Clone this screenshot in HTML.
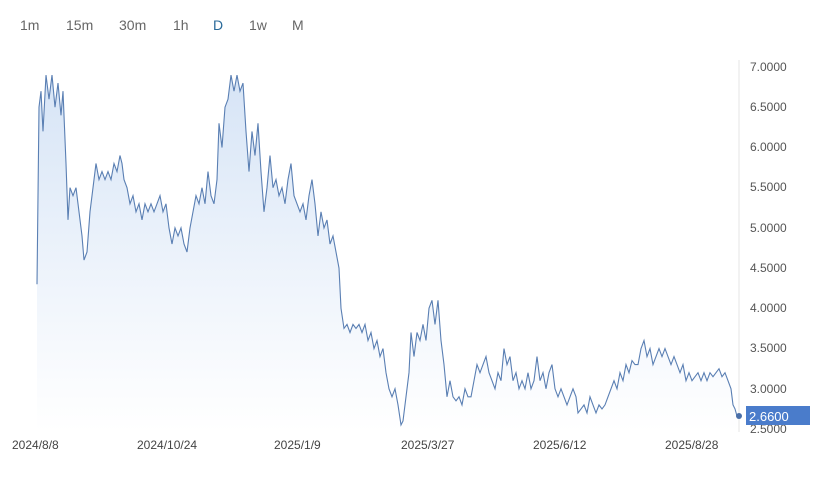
<!DOCTYPE html>
<html><head><meta charset="utf-8"><style>
body{margin:0;width:830px;height:494px;background:#fff;overflow:hidden;font-family:"Liberation Sans",sans-serif}
.tb{position:absolute;top:17px;font-size:14px;color:#666}
</style></head><body>
<div class="tb" style="left:20px">1m</div>
<div class="tb" style="left:66px">15m</div>
<div class="tb" style="left:119px">30m</div>
<div class="tb" style="left:173px">1h</div>
<div class="tb" style="left:213px;color:#2a6a9a">D</div>
<div class="tb" style="left:249px">1w</div>
<div class="tb" style="left:292px">M</div>
<svg id="s" width="830" height="494" style="position:absolute;left:0;top:0">
<defs><linearGradient id="g" x1="0" y1="0" x2="0" y2="1"><stop offset="0" stop-color="#d6e4f6"/><stop offset="1" stop-color="#ffffff" stop-opacity="0.9"/></linearGradient></defs>
<line x1="739" y1="60" x2="739" y2="432" stroke="#e4e4e4"/>
<path id="area" fill="url(#g)"/>
<path id="line" fill="none" stroke="#5a7fb3" stroke-width="1.1"/>
<g font-size="12" fill="#555">
<text x="750" y="71">7.0000</text><text x="750" y="111">6.5000</text><text x="750" y="151">6.0000</text><text x="750" y="191">5.5000</text><text x="750" y="232">5.0000</text><text x="750" y="272">4.5000</text><text x="750" y="312">4.0000</text><text x="750" y="352">3.5000</text><text x="750" y="393">3.0000</text><text x="750" y="433">2.5000</text>
</g>
<rect x="746" y="406" width="64" height="19" fill="#4a7ccb"/>
<text x="749" y="421" font-size="13" fill="#fff">2.6600</text>
<circle cx="739" cy="416" r="3" fill="#4a6fa8"/>
<g font-size="12" fill="#444">
<text x="12" y="449">2024/8/8</text><text x="137" y="449">2024/10/24</text><text x="274" y="449">2025/1/9</text><text x="401" y="449">2025/3/27</text><text x="533" y="449">2025/6/12</text><text x="665" y="449">2025/8/28</text>
</g>
</svg>
<script>
var d=[37,4.3,39,6.5,41,6.7,43,6.2,46,6.9,49,6.6,52,6.9,55,6.5,58,6.8,61,6.4,63,6.7,66,5.8,68,5.1,70,5.5,73,5.4,76,5.5,79,5.2,82,4.9,84,4.6,87,4.7,90,5.2,93,5.5,96,5.8,99,5.6,102,5.7,105,5.6,108,5.7,111,5.6,114,5.8,117,5.7,120,5.9,122,5.8,124,5.6,127,5.5,130,5.3,133,5.4,136,5.2,139,5.3,142,5.1,145,5.3,148,5.2,151,5.3,154,5.2,157,5.3,160,5.4,163,5.2,166,5.3,169,5.0,172,4.8,175,5.0,178,4.9,181,5.0,184,4.8,187,4.7,190,5.0,193,5.2,196,5.4,199,5.3,202,5.5,205,5.3,208,5.7,211,5.4,214,5.3,217,5.6,219,6.3,222,6.0,225,6.5,228,6.6,231,6.9,234,6.7,237,6.9,240,6.7,243,6.8,246,6.2,249,5.7,252,6.2,255,5.9,258,6.3,261,5.7,264,5.2,267,5.5,270,5.9,273,5.5,276,5.6,279,5.4,282,5.5,285,5.3,288,5.6,291,5.8,294,5.4,297,5.3,300,5.2,303,5.3,306,5.1,309,5.4,312,5.6,315,5.3,318,4.9,321,5.2,324,5.0,327,5.1,330,4.8,333,4.9,336,4.7,339,4.5,341,4.0,344,3.75,347,3.8,350,3.7,353,3.8,356,3.75,359,3.8,362,3.7,365,3.8,368,3.6,371,3.7,374,3.5,377,3.6,380,3.4,383,3.5,386,3.2,389,3.0,392,2.9,395,3.0,398,2.8,401,2.55,403,2.6,406,2.9,409,3.2,411,3.7,414,3.4,417,3.7,420,3.6,423,3.8,426,3.6,429,4.0,432,4.1,435,3.8,438,4.1,441,3.6,444,3.3,447,2.9,450,3.1,453,2.9,456,2.85,459,2.9,462,2.8,465,3.0,468,2.9,471,2.9,474,3.1,477,3.3,480,3.2,483,3.3,486,3.4,489,3.2,492,3.1,495,3.0,498,3.2,501,3.1,504,3.5,507,3.3,510,3.4,513,3.1,516,3.2,519,3.0,522,3.1,525,3.0,528,3.2,531,3.0,534,3.1,537,3.4,540,3.1,543,3.2,546,3.0,549,3.2,552,3.3,555,3.0,558,2.9,561,3.0,564,2.9,567,2.8,570,2.9,573,3.0,576,2.9,578,2.7,581,2.75,584,2.8,587,2.7,590,2.9,593,2.8,596,2.7,599,2.8,602,2.75,605,2.8,608,2.9,611,3.0,614,3.1,617,3.0,620,3.2,623,3.1,626,3.3,629,3.2,632,3.35,635,3.3,638,3.3,641,3.5,644,3.6,647,3.4,650,3.5,653,3.3,656,3.4,659,3.5,662,3.4,665,3.5,668,3.4,671,3.3,674,3.4,677,3.3,680,3.2,683,3.3,686,3.1,689,3.2,692,3.1,695,3.15,698,3.2,701,3.1,704,3.2,707,3.1,710,3.2,713,3.15,716,3.2,719,3.25,722,3.15,725,3.2,728,3.1,731,3.0,733,2.8,735,2.75,737,2.66];
var p="";for(var i=0;i<d.length;i+=2){var x=d[i],y=429-(d[i+1]-2.5)*80.44;p+=(i?"L":"M")+x+" "+y.toFixed(1);}
document.getElementById("line").setAttribute("d",p);
document.getElementById("area").setAttribute("d",p+"L737 432L37 432Z");
</script>
</body></html>
